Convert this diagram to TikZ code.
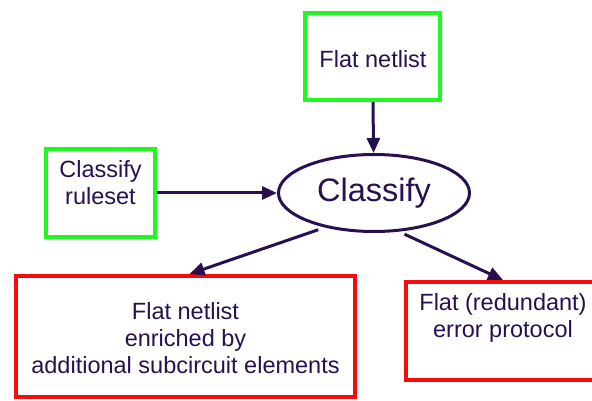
\documentclass[tikz,border=0pt]{standalone}
\usepackage{fontspec}
\setmainfont{Liberation Sans}
\usetikzlibrary{arrows.meta,shapes.geometric}
\definecolor{ink}{RGB}{40,16,80}
\definecolor{boxgreen}{RGB}{30,250,30}
\definecolor{boxred}{RGB}{250,10,10}
\tikzset{
  inbox/.style={draw=boxgreen, line width=4pt, inner sep=0pt},
  outbox/.style={draw=boxred, line width=4pt, inner sep=0pt},
  txt/.style={text=ink, align=center, inner sep=0pt,
    font=\fontsize{23.5}{27}\selectfont},
  flow/.style={draw=ink, line width=3pt,
    -{Triangle[length=15pt,width=13pt]}},
}
\begin{document}
\begin{tikzpicture}[x=1pt, y=-1pt]
  \useasboundingbox (0,0) rectangle (592,401);
  \clip (0,0) rectangle (592,401);

  % inputs
  \node[inbox, minimum width=135pt, minimum height=87pt] (tb) at (372.5,56.5) {};
  \node[txt] (tbt) at (373,59.5) {Flat netlist};
  \node[inbox, minimum width=109pt, minimum height=88pt] (rs) at (100.5,193) {};
  \node[txt] (rst) at (100.5,182.5) {Classify\\ruleset};

  % process
  \node[ellipse, draw=ink, line width=3pt, minimum width=191pt,
    minimum height=77pt, inner sep=0pt, text=ink,
    font=\fontsize{32.5}{36}\selectfont] (cls) at (374,193) {Classify};

  % outputs
  \node[outbox, minimum width=339pt, minimum height=121pt] (lb) at (185.5,336.5) {};
  \node[txt] (lbt) at (185.5,338.5)
    {Flat netlist\\enriched by\\additional subcircuit elements};
  \node[outbox, minimum width=194pt, minimum height=98pt] (rb) at (503,331) {};
  \node[txt] (rbt) at (503,318) {Flat (redundant)\\error protocol};

  % connectors
  \draw[flow] (tb) -- (cls);
  \draw[flow] (rs.east) -- (cls.west);
  \draw[flow, shorten <=7pt] (cls.215) -- ([xshift=4pt]lb.north);
  \draw[flow, shorten <=6pt] (cls.303) -- (rb.north);
\end{tikzpicture}
\end{document}
